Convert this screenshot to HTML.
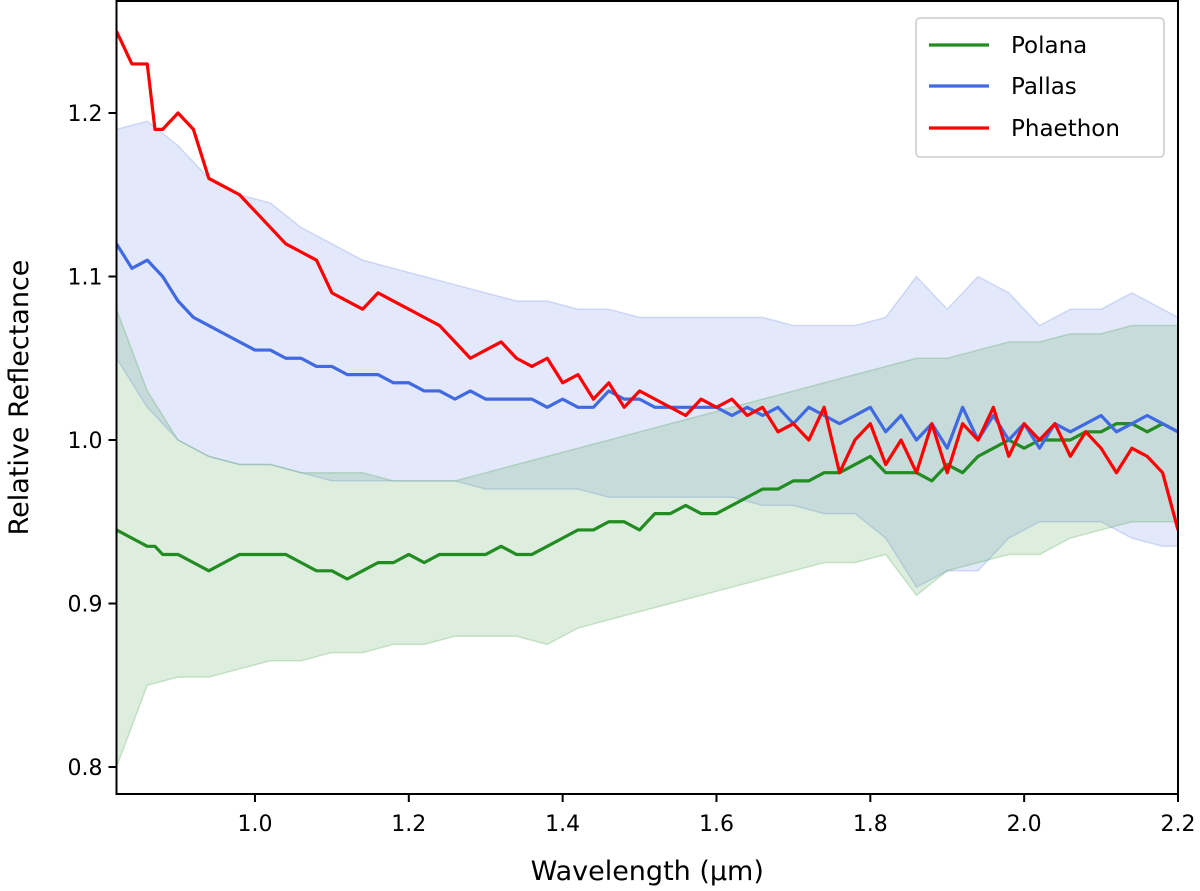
<!DOCTYPE html>
<html><head><meta charset="utf-8"><style>
html,body{margin:0;padding:0;background:#fff;}
svg{display:block;font-family:"DejaVu Sans","Liberation Sans",sans-serif;}
</style></head><body>
<svg id="chart" width="1200" height="891"></svg>
<script>
const lineX = [0.82,0.84,0.86,0.87,0.88,0.90,0.92,0.94,0.96,0.98,1.00,1.02,1.04,1.06,1.08,1.10,1.12,1.14,1.16,1.18,1.20,1.22,1.24,1.26,1.28,1.30,1.32,1.34,1.36,1.38,1.40,1.42,1.44,1.46,1.48,1.50,1.52,1.54,1.56,1.58,1.60,1.62,1.64,1.66,1.68,1.70,1.72,1.74,1.76,1.78,1.80,1.82,1.84,1.86,1.88,1.90,1.92,1.94,1.96,1.98,2.00,2.02,2.04,2.06,2.08,2.10,2.12,2.14,2.16,2.18,2.20];
const phaethon = [1.25,1.23,1.23,1.19,1.19,1.20,1.19,1.16,1.155,1.15,1.14,1.13,1.12,1.115,1.11,1.09,1.085,1.08,1.09,1.085,1.08,1.075,1.07,1.06,1.05,1.055,1.06,1.05,1.045,1.05,1.035,1.04,1.025,1.035,1.02,1.03,1.025,1.02,1.015,1.025,1.02,1.025,1.015,1.02,1.005,1.01,1.0,1.02,0.98,1.0,1.01,0.985,1.0,0.98,1.01,0.98,1.01,1.0,1.02,0.99,1.01,1.0,1.01,0.99,1.005,0.995,0.98,0.995,0.99,0.98,0.945];
const pallas = [1.12,1.105,1.11,1.105,1.10,1.085,1.075,1.07,1.065,1.06,1.055,1.055,1.05,1.05,1.045,1.045,1.04,1.04,1.04,1.035,1.035,1.03,1.03,1.025,1.03,1.025,1.025,1.025,1.025,1.02,1.025,1.02,1.02,1.03,1.025,1.025,1.02,1.02,1.02,1.02,1.02,1.015,1.02,1.015,1.02,1.01,1.02,1.015,1.01,1.015,1.02,1.005,1.015,1.0,1.01,0.995,1.02,1.0,1.015,1.0,1.01,0.995,1.01,1.005,1.01,1.015,1.005,1.01,1.015,1.01,1.005];
const polana = [0.945,0.94,0.935,0.935,0.93,0.93,0.925,0.92,0.925,0.93,0.93,0.93,0.93,0.925,0.92,0.92,0.915,0.92,0.925,0.925,0.93,0.925,0.93,0.93,0.93,0.93,0.935,0.93,0.93,0.935,0.94,0.945,0.945,0.95,0.95,0.945,0.955,0.955,0.96,0.955,0.955,0.96,0.965,0.97,0.97,0.975,0.975,0.98,0.98,0.985,0.99,0.98,0.98,0.98,0.975,0.985,0.98,0.99,0.995,1.0,0.995,1.0,1.0,1.0,1.005,1.005,1.01,1.01,1.005,1.01,1.005];
const bandX = [0.82,0.86,0.90,0.94,0.98,1.02,1.06,1.10,1.14,1.18,1.22,1.26,1.30,1.34,1.38,1.42,1.46,1.50,1.54,1.58,1.62,1.66,1.70,1.74,1.78,1.82,1.86,1.90,1.94,1.98,2.02,2.06,2.10,2.14,2.18,2.20];
const pallasUpper = [1.19,1.195,1.18,1.16,1.15,1.145,1.13,1.12,1.11,1.105,1.10,1.095,1.09,1.085,1.085,1.08,1.08,1.075,1.075,1.075,1.075,1.075,1.07,1.07,1.07,1.075,1.10,1.08,1.10,1.09,1.07,1.08,1.08,1.09,1.08,1.075];
const pallasLower = [1.05,1.02,1.0,0.99,0.985,0.985,0.98,0.975,0.975,0.975,0.975,0.975,0.97,0.97,0.97,0.97,0.965,0.965,0.965,0.965,0.965,0.96,0.96,0.955,0.955,0.94,0.91,0.92,0.92,0.94,0.95,0.95,0.95,0.94,0.935,0.935];
const polanaUpper = [1.08,1.03,1.0,0.99,0.985,0.985,0.98,0.98,0.98,0.975,0.975,0.975,0.98,0.985,0.99,0.995,1.0,1.005,1.01,1.015,1.02,1.025,1.03,1.035,1.04,1.045,1.05,1.05,1.055,1.06,1.06,1.065,1.065,1.07,1.07,1.07];
const polanaLower = [0.80,0.85,0.855,0.855,0.86,0.865,0.865,0.87,0.87,0.875,0.875,0.88,0.88,0.88,0.875,0.885,0.89,0.895,0.90,0.905,0.91,0.915,0.92,0.925,0.925,0.93,0.905,0.92,0.925,0.93,0.93,0.94,0.945,0.95,0.95,0.95];
const xTicks = [1.0,1.2,1.4,1.6,1.8,2.0,2.2];
const yTicks = [0.8,0.9,1.0,1.1,1.2];

const NS="http://www.w3.org/2000/svg";
const svg=document.getElementById('chart');
const L=116.5,R=1178,T=1,B=794;
const X0=0.82,X1=2.2,Y0=0.7835,Y1=1.2685;
const sx=v=>L+(v-X0)/(X1-X0)*(R-L);
const sy=v=>B-(v-Y0)/(Y1-Y0)*(B-T);
function el(tag,attrs,parent){const e=document.createElementNS(NS,tag);for(const k in attrs)e.setAttribute(k,attrs[k]);(parent||svg).appendChild(e);return e;}
const clip=el('clipPath',{id:'clp'});el('rect',{x:L,y:T,width:R-L,height:B-T},clip);
const plot=el('g',{'clip-path':'url(#clp)'});


function band(up,lo,fill,stroke,name){
  let d='M'+bandX.map((x,i)=>sx(x)+','+sy(up[i])).join('L');
  for(let i=bandX.length-1;i>=0;i--)d+='L'+sx(bandX[i])+','+sy(lo[i]);
  const p=el('path',{d:d+'Z',fill:fill,stroke:stroke,'stroke-width':1.5},plot);
  
  
}
band(pallasUpper,pallasLower,'rgba(65,105,225,0.15)','rgba(65,105,225,0.2)','pallas-range-band');
band(polanaUpper,polanaLower,'rgba(34,139,34,0.15)','rgba(34,139,34,0.2)','polana-range-band');
function line(vals,color,name){
  const p=el('path',{d:'M'+lineX.map((x,i)=>sx(x)+','+sy(vals[i])).join('L'),fill:'none',stroke:color,'stroke-width':3.2,'stroke-linejoin':'round'},plot);
  
  
}
line(polana,'#228b22','polana-line');
line(pallas,'#4169e1','pallas-line');
line(phaethon,'#ff0000','phaethon-line');
const frame=el('rect',{x:L,y:T,width:R-L,height:B-T,fill:'none',stroke:'#000','stroke-width':2});


xTicks.forEach(v=>{
  el('line',{x1:sx(v),x2:sx(v),y1:B,y2:B+8,stroke:'#000','stroke-width':2});
  const t=el('text',{x:sx(v),y:B+37,'text-anchor':'middle','font-size':22,fill:'#000'});t.textContent=v.toFixed(1);
  
  
});
yTicks.forEach(v=>{
  el('line',{x1:L-8,x2:L,y1:sy(v),y2:sy(v),stroke:'#000','stroke-width':2});
  const t=el('text',{x:L-14,y:sy(v)+8,'text-anchor':'end','font-size':22,fill:'#000'});t.textContent=v.toFixed(1);
  
  
});
const xt=el('text',{x:(L+R)/2,y:880,'text-anchor':'middle','font-size':27,fill:'#000'});xt.textContent='Wavelength (µm)';


const yt=el('text',{x:0,y:0,transform:'translate(28,'+(T+B)/2+') rotate(-90)','text-anchor':'middle','font-size':27,fill:'#000'});yt.textContent='Relative Reflectance';


const lg=el('g',{});


el('rect',{x:916,y:18,width:248,height:139,rx:4,fill:'#fff',stroke:'#ccc','stroke-width':1.5},lg);
[['Polana','#228b22',45],['Pallas','#4169e1',86],['Phaethon','#ff0000',128]].forEach(([n,c,y])=>{
  const g=el('g',{},lg);
  
  
  el('line',{x1:929,x2:989,y1:y,y2:y,stroke:c,'stroke-width':3.2},g);
  const t=el('text',{x:1011,y:y+8,'font-size':23,fill:'#000'},g);t.textContent=n;
});
</script>
</body></html>
